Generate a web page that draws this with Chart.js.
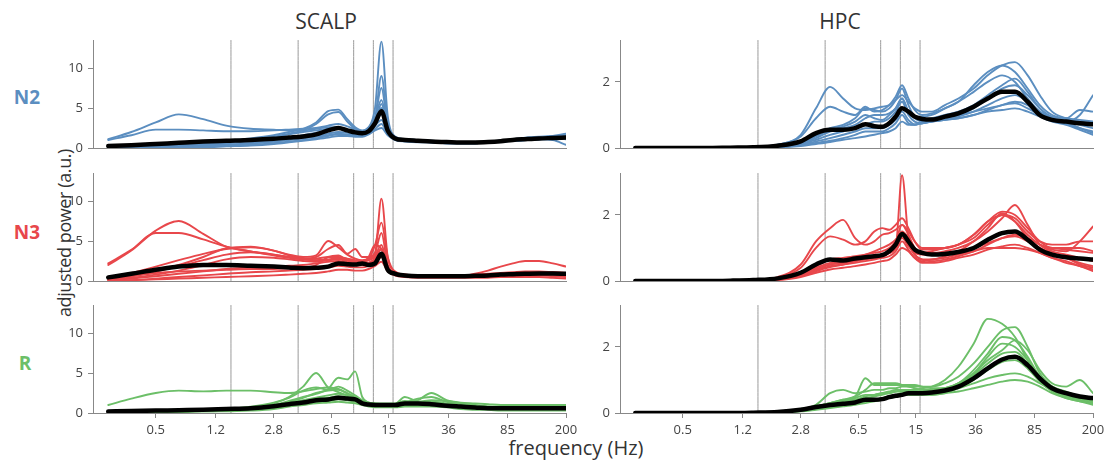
<!DOCTYPE html>
<html>
<head>
<meta charset="utf-8">
<script src="https://cdn.jsdelivr.net/npm/chart.js@4.4.1/dist/chart.umd.min.js"></script>
<style>
  body { margin: 0; background: #fff; }
  #wrap { position: relative; width: 1109px; height: 463px; overflow: hidden; font-family: 'Open Sans', sans-serif; }
  #wrap canvas { position: absolute; }
  .lbl { position: absolute; transform: translate(-50%, -50%); white-space: nowrap; color: #333; }
</style>
</head>
<body>
<div id="wrap">
  <div class="lbl" style="left:326px;top:21px;font-size:21px">SCALP</div>
  <div class="lbl" style="left:840px;top:21px;font-size:21px">HPC</div>
  <div class="lbl" style="left:27px;top:97px;font-size:19px;font-weight:bold;color:#5b8ec0">N2</div>
  <div class="lbl" style="left:27px;top:232px;font-size:19px;font-weight:bold;color:#e8474b">N3</div>
  <div class="lbl" style="left:25px;top:363px;font-size:19px;font-weight:bold;color:#6cbf68">R</div>
  <div class="lbl" style="left:64px;top:233px;font-size:18px;letter-spacing:-0.4px;transform:translate(-50%,-50%) rotate(-90deg)">adjusted power (a.u.)</div>
  <div class="lbl" style="left:576px;top:447px;font-size:20px">frequency (Hz)</div>
</div>
<script>
// frequency grid (Hz) shared by every spectrum
const freqs = [0.25, 0.35, 0.5, 0.7, 1.0, 1.4, 2.0, 2.8, 3.5, 4.3, 5.2, 6.2, 7.2, 8.2, 9.2, 10.2, 11.2, 12.3, 13.5, 14.8, 16.5, 19, 23, 28, 35, 43, 53, 64, 77, 92, 110, 135, 165, 200];
const xTicks = [0.5, 1.2, 2.8, 6.5, 15, 36, 85, 200];
const xTickLabels = ['0.5', '1.2', '2.8', '6.5', '15', '36', '85', '200'];
const bandEdges = [1.5, 4, 9, 12, 16];
const scalpYTicks = [0, 5, 10];
const hpcYTicks = [0, 2];

// SCALP N2
const scalpN2 = [
  [1.1,2.0,3.2,4.2,3.6, 2.8,2.4,2.3,2.2,2.2, 2.4,2.6,2.6,2.3,2.0, 1.9,2.2,2.8,3.5,2.0, 1.2,1.0,0.9,0.8,0.7, 0.7,0.7,0.8,0.9,1.0, 1.1,1.2,1.2,1.3],
  [1.0,1.6,2.3,2.3,2.2, 2.1,2.1,2.2,2.3,2.4, 2.5,2.8,3.0,2.7,2.3, 2.1,2.6,3.8,6.0,2.6, 1.3,1.1,1.0,0.9,0.8, 0.7,0.7,0.7,0.8,0.9, 1.1,1.3,1.4,1.5],
  [0.1,0.2,0.3,0.5,0.7, 0.9,1.2,1.6,2.0,2.4, 3.2,4.6,4.8,3.6,2.6, 2.2,2.5,3.5,5.0,2.4, 1.3,1.1,0.9,0.8,0.7, 0.7,0.7,0.8,0.9,1.0, 1.1,1.3,1.4,1.6],
  [0.1,0.2,0.3,0.4,0.6, 0.8,1.1,1.4,1.8,2.2, 3.0,4.2,4.5,3.3,2.4, 2.0,2.3,3.6,9.0,3.0, 1.4,1.1,0.9,0.8,0.7, 0.7,0.7,0.8,0.9,1.0, 1.1,1.3,1.5,1.8],
  [0.0,0.1,0.2,0.3,0.4, 0.6,0.8,1.0,1.3,1.6, 1.9,2.2,2.4,2.2,2.0, 1.9,2.5,5.0,13.3,4.0, 1.4,1.0,0.9,0.8,0.7, 0.6,0.6,0.7,0.8,0.9, 1.0,1.1,1.2,1.2],
  [0.0,0.1,0.2,0.3,0.5, 0.7,1.0,1.3,1.7,2.0, 2.2,2.4,2.5,2.3,2.1, 2.0,2.4,3.8,7.5,2.8, 1.3,1.0,0.9,0.8,0.7, 0.7,0.7,0.7,0.8,0.9, 1.0,1.1,1.2,1.3],
  [0.0,0.1,0.1,0.2,0.3, 0.4,0.6,0.8,1.1,1.3, 1.5,1.8,2.0,1.9,1.7, 1.6,1.9,2.8,4.2,2.2, 1.2,0.9,0.8,0.7,0.6, 0.6,0.6,0.7,0.8,0.9, 1.0,1.1,1.2,1.1],
  [0.0,0.0,0.1,0.1,0.2, 0.3,0.4,0.6,0.8,1.0, 1.2,1.5,1.7,1.6,1.5, 1.5,1.8,2.4,3.0,1.8, 1.1,0.9,0.8,0.7,0.6, 0.6,0.6,0.7,0.8,0.9, 1.0,1.2,1.3,1.4],
  [0.0,0.0,0.0,0.1,0.1, 0.2,0.3,0.5,0.7,0.9, 1.1,1.3,1.5,1.5,1.4, 1.4,1.7,2.2,2.5,1.6, 1.0,0.8,0.7,0.7,0.6, 0.6,0.6,0.7,0.8,0.9, 1.0,1.1,1.0,0.4],
  [0.0,0.1,0.1,0.2,0.3, 0.4,0.6,0.8,1.0,1.2, 1.4,1.6,1.8,1.7,1.6, 1.6,2.0,3.0,5.5,2.2, 1.2,1.0,0.9,0.8,0.7, 0.7,0.7,0.8,0.9,1.1, 1.3,1.4,1.5,1.6]
];
const scalpN2Mean = [0.25,0.35,0.5,0.65,0.8, 0.9,1.0,1.15,1.3,1.45, 1.7,2.2,2.5,2.2,1.95, 1.85,2.1,3.1,4.6,2.2, 1.2,1.0,0.9,0.8,0.75, 0.7,0.7,0.75,0.85,1.0, 1.1,1.2,1.25,1.3];

// SCALP N3
const scalpN3 = [
  [2.0,3.8,6.3,7.5,5.9, 4.3,3.7,3.3,3.0,2.8, 2.8,3.0,3.0,2.8,2.6, 2.5,2.7,3.2,4.5,1.8, 0.9,0.7,0.6,0.6,0.6, 0.6,0.7,0.8,0.9,1.0, 1.0,1.0,0.9,0.9],
  [2.2,3.9,6.0,6.0,5.2, 4.3,3.7,3.2,2.9,2.7, 2.6,2.7,2.8,2.7,2.5, 2.4,2.6,3.0,4.0,1.6, 0.9,0.7,0.6,0.6,0.6, 0.6,0.6,0.7,0.8,0.9, 1.0,1.1,1.1,1.0],
  [0.3,0.7,1.3,2.0,3.0, 4.1,4.3,3.8,3.3,3.0, 3.2,5.0,4.2,3.3,2.8, 2.6,2.8,3.5,6.0,2.0, 1.0,0.8,0.7,0.6,0.6, 0.6,0.7,0.7,0.8,0.9, 1.0,1.0,0.9,0.8],
  [0.5,1.0,1.8,2.6,3.4, 4.0,4.2,3.8,3.2,2.8, 3.0,4.0,4.5,3.4,4.0, 3.0,3.0,3.5,10.3,3.0, 1.2,0.8,0.7,0.6,0.6, 0.6,0.6,0.7,0.8,0.9, 1.0,1.0,1.0,0.9],
  [0.3,0.6,1.2,1.8,2.6, 3.3,3.6,3.3,3.0,2.7, 2.6,2.6,2.8,2.6,2.5, 2.4,2.7,4.5,7.3,3.0, 1.1,0.8,0.7,0.6,0.6, 0.6,0.6,0.7,0.8,0.9, 0.9,1.0,1.0,1.0],
  [0.2,0.4,0.8,1.3,2.0, 2.7,3.0,2.9,2.7,2.5, 2.4,2.6,2.7,2.5,2.4, 2.3,3.0,4.5,4.0,1.8, 0.9,0.7,0.6,0.5,0.5, 0.5,0.5,0.6,0.7,0.8, 0.8,0.8,0.8,0.7],
  [0.1,0.3,0.6,0.9,1.2, 1.5,1.7,1.8,1.9,2.0, 2.2,2.4,2.5,2.3,2.2, 2.1,2.3,2.8,4.0,1.6, 0.8,0.6,0.5,0.5,0.5, 0.5,0.5,0.5,0.6,0.6, 0.7,0.7,0.6,0.5],
  [0.0,0.1,0.3,0.5,0.7, 0.9,1.1,1.2,1.3,1.4, 1.5,1.7,1.9,1.8,1.7, 1.7,1.9,2.3,3.0,1.4, 0.7,0.5,0.4,0.4,0.4, 0.4,0.4,0.4,0.5,0.5, 0.5,0.5,0.4,0.3],
  [0.0,0.1,0.2,0.3,0.4, 0.5,0.6,0.7,0.8,0.9, 1.0,1.2,1.4,1.4,1.3, 1.3,1.5,1.9,2.4,1.2, 0.7,0.6,0.6,0.6,0.6, 0.6,0.9,1.3,1.8,2.2, 2.5,2.5,2.2,1.8],
  [0.3,0.6,1.0,1.2,1.3, 1.4,1.5,1.5,1.6,1.7, 2.0,3.0,3.2,2.5,2.2, 2.0,2.2,2.6,3.5,1.5, 0.8,0.6,0.6,0.6,0.6, 0.7,0.8,0.9,1.0,1.1, 1.2,1.2,1.1,1.0]
];
const scalpN3Mean = [0.45,0.9,1.4,1.8,2.0, 2.0,1.9,1.8,1.7,1.6, 1.65,1.8,2.2,2.1,2.05, 2.2,2.0,2.2,3.4,1.4, 0.9,0.7,0.6,0.6,0.6, 0.6,0.65,0.7,0.8,0.85, 0.9,0.95,0.95,0.9];

// SCALP REM
const scalpR = [
  [1.0,1.8,2.5,2.8,2.7, 2.8,2.8,2.6,2.5,2.7, 3.0,3.2,3.0,2.4,1.9, 1.5,1.3,1.2,1.2,1.2, 1.2,1.5,1.4,1.6,1.5, 1.3,1.2,1.1,1.0,1.0, 1.0,1.0,1.0,1.0],
  [0.2,0.3,0.3,0.4,0.4, 0.5,0.7,1.2,2.0,3.3, 5.0,3.2,2.6,2.2,1.8, 1.4,1.2,1.1,1.0,1.0, 1.1,2.0,1.4,1.3,1.0, 0.8,0.7,0.6,0.6,0.6, 0.6,0.6,0.6,0.6],
  [0.1,0.2,0.2,0.3,0.3, 0.4,0.6,1.0,1.5,2.0, 2.4,3.0,4.4,4.2,5.2, 2.0,1.3,1.1,1.0,1.0, 1.0,1.2,1.6,2.5,1.6, 1.2,1.0,0.8,0.7,0.7, 0.7,0.6,0.6,0.6],
  [0.2,0.2,0.3,0.3,0.4, 0.5,0.8,1.3,1.9,2.8, 3.2,2.9,3.3,2.8,2.2, 1.6,1.3,1.2,1.1,1.1, 1.1,1.3,1.8,2.0,1.4, 1.1,0.9,0.8,0.8,0.8, 0.8,0.9,0.9,0.9],
  [0.1,0.1,0.2,0.2,0.3, 0.4,0.6,1.0,1.4,1.9, 2.5,2.8,2.9,2.5,2.0, 1.4,1.1,1.0,0.9,0.9, 0.9,1.0,1.1,1.2,1.0, 0.8,0.7,0.6,0.6,0.6, 0.6,0.7,0.7,0.7],
  [0.1,0.1,0.2,0.2,0.3, 0.3,0.5,0.8,1.1,1.4, 1.7,1.9,2.1,2.0,1.6, 1.2,1.0,0.9,0.9,0.9, 0.9,1.0,1.0,1.1,0.9, 0.7,0.6,0.5,0.5,0.5, 0.5,0.5,0.5,0.5],
  [0.1,0.1,0.1,0.2,0.2, 0.3,0.4,0.7,1.0,1.2, 1.4,1.5,1.7,1.6,1.4, 1.1,0.9,0.8,0.8,0.8, 0.8,0.9,0.9,0.9,0.8, 0.6,0.5,0.5,0.4,0.4, 0.4,0.4,0.4,0.4],
  [0.1,0.1,0.1,0.1,0.2, 0.2,0.3,0.5,0.8,1.0, 1.2,1.3,1.4,1.3,1.2, 1.0,0.8,0.7,0.7,0.7, 0.7,0.8,0.8,0.8,0.7, 0.5,0.4,0.4,0.3,0.3, 0.3,0.3,0.3,0.3],
  [0.1,0.1,0.2,0.2,0.3, 0.4,0.6,0.9,1.3,1.6, 1.9,2.2,2.4,2.2,1.8, 1.3,1.1,1.0,1.0,1.0, 1.0,1.2,1.3,1.4,1.2, 1.0,0.9,0.8,0.7,0.7, 0.8,0.8,0.8,0.8]
];
const scalpRMean = [0.2,0.25,0.3,0.35,0.4, 0.5,0.6,0.85,1.1,1.3, 1.6,1.7,1.9,1.8,1.7, 1.2,1.05,1.0,1.0,1.0, 1.0,1.2,1.2,1.1,0.9, 0.8,0.7,0.6,0.6,0.6, 0.6,0.6,0.6,0.6];

// HPC N2
const hpcN2 = [
  [0,0,0,0,0.01, 0.03,0.1,0.4,1.2,1.85, 1.5,1.2,1.15,1.2,1.25, 1.3,1.45,1.6,1.4,1.2, 1.1,1.1,1.3,1.5,1.8, 2.2,2.5,2.6,2.2,1.6, 1.1,0.9,0.8,0.7],
  [0,0,0,0,0.01, 0.03,0.1,0.35,0.9,1.25, 1.1,1.0,1.25,1.1,1.15, 1.3,1.55,1.9,1.5,1.15, 1.0,1.05,1.2,1.4,1.9, 2.3,2.5,2.3,1.8,1.3, 1.0,0.9,0.85,0.8],
  [0,0,0,0,0, 0.02,0.06,0.2,0.4,0.6, 0.7,0.9,1.2,1.15,1.1, 1.2,1.45,1.8,1.3,0.95, 0.85,0.9,1.0,1.1,1.3, 1.6,1.9,2.1,1.7,1.2, 0.9,0.8,1.0,1.6],
  [0,0,0,0,0, 0.02,0.05,0.15,0.3,0.5, 0.6,0.7,0.9,1.0,1.0, 1.05,1.2,1.5,1.1,0.9, 0.8,0.85,0.9,1.0,1.2, 1.5,1.8,1.9,1.6,1.2, 0.95,0.9,1.15,1.1],
  [0,0,0,0,0, 0.01,0.04,0.12,0.25,0.4, 0.5,0.6,0.7,0.8,0.8, 0.9,1.1,1.4,1.0,0.8, 0.75,0.8,0.85,0.95,1.1, 1.3,1.5,1.6,1.4,1.1, 0.9,0.8,0.7,0.6],
  [0,0,0,0,0, 0.01,0.03,0.1,0.2,0.3, 0.4,0.5,0.6,0.6,0.6, 0.7,0.85,1.1,0.85,0.72, 0.75,0.8,0.85,0.9,1.0, 1.15,1.3,1.35,1.2,1.0, 0.85,0.75,0.6,0.5],
  [0,0,0,0,0, 0.01,0.03,0.08,0.15,0.22, 0.3,0.4,0.5,0.5,0.5, 0.6,0.75,1.0,0.75,0.7, 0.75,0.8,0.85,0.9,1.0, 1.1,1.15,1.2,1.1,0.95, 0.8,0.7,0.55,0.4],
  [0,0,0,0,0, 0.01,0.02,0.06,0.12,0.18, 0.25,0.3,0.35,0.4,0.45, 0.5,0.6,0.8,0.7,0.7, 0.8,0.85,0.9,1.0,1.1, 1.2,1.3,1.4,1.3,1.0, 0.85,0.75,0.6,0.45],
  [0,0,0,0,0, 0.01,0.04,0.15,0.35,0.55, 0.65,0.8,1.0,0.9,0.85, 1.0,1.2,1.5,1.1,0.95, 0.95,1.0,1.2,1.4,1.7, 2.0,2.2,2.0,1.5,1.1, 0.9,0.85,0.8,0.75]
];
const hpcN2Mean = [0,0,0,0,0.01, 0.02,0.07,0.2,0.45,0.55, 0.55,0.6,0.72,0.66,0.64, 0.75,0.95,1.2,1.1,0.95, 0.88,0.86,0.95,1.05,1.25, 1.5,1.7,1.7,1.4,1.0, 0.85,0.8,0.75,0.72];

// HPC N3
const hpcN3 = [
  [0,0,0,0,0.01, 0.03,0.12,0.5,1.2,1.6, 1.85,1.3,1.1,1.2,1.4, 1.45,1.55,1.7,1.5,1.2, 1.0,1.0,1.0,1.1,1.4, 1.8,2.1,2.0,1.6,1.2, 1.0,1.0,1.0,0.9],
  [0,0,0,0,0.01, 0.03,0.1,0.4,1.0,1.35, 1.25,1.1,1.2,1.5,1.6, 1.55,1.7,1.9,1.6,1.2, 0.95,0.95,1.0,1.1,1.3, 1.7,2.0,1.9,1.5,1.2, 1.1,1.1,1.2,1.2],
  [0,0,0,0,0, 0.02,0.06,0.2,0.35,0.5, 0.55,0.6,0.7,0.75,0.8, 0.85,1.0,3.2,1.3,0.8, 0.65,0.6,0.65,0.75,0.9, 1.1,1.3,1.4,1.3,1.1, 0.95,0.9,1.2,1.65],
  [0,0,0,0,0, 0.02,0.07,0.25,0.45,0.65, 0.7,0.75,0.8,0.85,0.9, 1.0,1.2,1.7,1.4,1.0, 0.85,0.85,0.9,1.0,1.2, 1.5,1.9,2.3,1.7,1.1, 0.9,0.8,0.7,0.6],
  [0,0,0,0,0, 0.02,0.05,0.2,0.35,0.5, 0.55,0.6,0.65,0.7,0.75, 0.85,1.0,1.4,1.1,0.8, 0.65,0.65,0.75,0.9,1.2, 1.6,2.05,1.8,1.3,1.0, 0.8,0.7,0.5,0.4],
  [0,0,0,0,0, 0.01,0.04,0.15,0.3,0.42, 0.5,0.55,0.6,0.65,0.7, 0.75,0.9,1.2,0.95,0.7, 0.55,0.55,0.6,0.7,0.8, 0.95,1.05,1.1,1.0,0.85, 0.7,0.6,0.45,0.35],
  [0,0,0,0,0, 0.01,0.03,0.12,0.25,0.35, 0.4,0.45,0.5,0.55,0.6, 0.65,0.8,1.0,0.9,0.7, 0.6,0.65,0.7,0.8,0.9, 1.0,1.0,1.0,0.95,0.85, 0.7,0.55,0.45,0.3],
  [0,0,0,0,0, 0.01,0.05,0.2,0.4,0.55, 0.6,0.7,0.8,0.9,1.0, 1.1,1.25,1.5,1.3,1.0, 0.85,0.9,1.0,1.1,1.4, 1.8,2.0,1.8,1.4,1.1, 1.0,0.95,0.9,0.85],
  [0,0,0,0,0, 0.01,0.04,0.15,0.3,0.45, 0.5,0.6,0.7,0.7,0.75, 0.85,1.0,1.3,1.05,0.85, 0.8,0.8,0.85,0.9,1.0, 1.15,1.3,1.35,1.2,1.0, 0.85,0.7,0.55,0.45]
];
const hpcN3Mean = [0,0,0,0,0.01, 0.03,0.08,0.25,0.5,0.65, 0.62,0.68,0.72,0.75,0.78, 0.9,1.1,1.42,1.2,0.95, 0.85,0.8,0.82,0.88,1.0, 1.25,1.45,1.5,1.25,0.95, 0.8,0.72,0.68,0.65];

// HPC REM
const hpcR = [
  [0,0,0,0,0, 0.01,0.03,0.1,0.2,0.3, 0.35,0.45,0.55,0.55,0.6, 0.6,0.65,0.7,0.7,0.7, 0.75,0.8,1.0,1.4,2.1, 2.85,2.7,2.3,1.6,1.0, 0.7,0.55,0.45,0.35],
  [0,0,0,0,0, 0.01,0.04,0.12,0.25,0.6, 0.7,0.6,0.65,0.7,0.7, 0.75,0.75,0.8,0.8,0.8, 0.8,0.8,0.9,1.1,1.5, 2.0,2.5,2.6,2.0,1.2, 0.8,0.6,0.5,0.4],
  [0,0,0,0,0, 0.01,0.03,0.1,0.2,0.3, 0.4,0.5,1.05,0.85,0.85, 0.85,0.85,0.85,0.85,0.85, 0.8,0.75,0.75,0.9,1.3, 1.8,2.3,2.2,1.7,1.1, 0.8,0.65,0.5,0.4],
  [0,0,0,0,0, 0.01,0.03,0.1,0.2,0.3, 0.4,0.5,0.7,0.9,0.9, 0.9,0.9,0.85,0.8,0.75, 0.7,0.7,0.75,0.9,1.2, 1.6,1.9,2.2,1.9,1.3, 0.9,0.8,1.0,0.6],
  [0,0,0,0,0, 0.01,0.02,0.08,0.15,0.22, 0.28,0.35,0.45,0.5,0.55, 0.6,0.65,0.65,0.65,0.65, 0.65,0.65,0.7,0.85,1.15, 1.5,1.8,1.85,1.5,1.0, 0.7,0.5,0.4,0.3],
  [0,0,0,0,0, 0.01,0.02,0.06,0.12,0.18, 0.22,0.28,0.35,0.4,0.45, 0.5,0.55,0.55,0.55,0.55, 0.55,0.55,0.6,0.75,1.0, 1.3,1.55,1.6,1.35,0.95, 0.65,0.45,0.35,0.25],
  [0,0,0,0,0, 0.01,0.02,0.06,0.12,0.18, 0.22,0.28,0.35,0.4,0.45, 0.5,0.55,0.6,0.6,0.6, 0.6,0.6,0.65,0.75,0.9, 1.05,1.15,1.2,1.1,0.9, 0.7,0.55,0.45,0.35],
  [0,0,0,0,0, 0.01,0.02,0.05,0.1,0.15, 0.2,0.25,0.3,0.35,0.4, 0.45,0.5,0.55,0.55,0.55, 0.55,0.55,0.6,0.65,0.75, 0.85,0.95,1.0,0.95,0.8, 0.6,0.45,0.35,0.3],
  [0,0,0,0,0, 0.01,0.03,0.1,0.2,0.3, 0.35,0.4,0.5,0.55,0.6, 0.65,0.7,0.7,0.7,0.7, 0.7,0.7,0.75,0.9,1.2, 1.7,2.1,2.0,1.6,1.1, 0.8,0.6,0.5,0.45]
];
const hpcRMean = [0,0,0,0,0, 0.01,0.03,0.1,0.18,0.24, 0.28,0.32,0.4,0.4,0.42, 0.48,0.52,0.55,0.6,0.6, 0.6,0.62,0.68,0.8,1.05, 1.35,1.62,1.7,1.45,1.05, 0.75,0.6,0.5,0.45];

const blue = '#5b8ec0', red = '#e8474b', green = '#6cbf68';
const axisColor = '#888', tickColor = '#444';

const panels = [
  { col: 0, row: 0, subjects: scalpN2, mean: scalpN2Mean, color: blue, yMax: 13.5, yTicks: scalpYTicks },
  { col: 1, row: 0, subjects: hpcN2, mean: hpcN2Mean, color: blue, yMax: 3.27, yTicks: hpcYTicks },
  { col: 0, row: 1, subjects: scalpN3, mean: scalpN3Mean, color: red, yMax: 13.5, yTicks: scalpYTicks },
  { col: 1, row: 1, subjects: hpcN3, mean: hpcN3Mean, color: red, yMax: 3.27, yTicks: hpcYTicks },
  { col: 0, row: 2, subjects: scalpR, mean: scalpRMean, color: green, yMax: 13.5, yTicks: scalpYTicks },
  { col: 1, row: 2, subjects: hpcR, mean: hpcRMean, color: green, yMax: 3.27, yTicks: hpcYTicks }
];

const colLeft = [93, 620];
const rowTop = [40, 173, 305];
const areaW = 473, areaH = 108;
const yAxisW = 45, padR = 16, padT = 16, xAxisH = 28;

Chart.defaults.font.family = "'Open Sans', sans-serif";
const wrap = document.getElementById('wrap');

panels.forEach(p => {
  const last = p.row === 2;
  const padB = last ? 4 : 16;
  const cv = document.createElement('canvas');
  cv.width = yAxisW + areaW + padR;
  cv.height = padT + areaH + (last ? xAxisH : 0) + padB;
  cv.style.left = (colLeft[p.col] - yAxisW) + 'px';
  cv.style.top = (rowTop[p.row] - padT) + 'px';
  wrap.appendChild(cv);

  const datasets = [];
  bandEdges.forEach(f => {
    datasets.push({ data: [{ x: f, y: 0 }, { x: f, y: p.yMax }], borderColor: '#9a9a9a', borderWidth: 1, order: 3 });
  });
  p.subjects.forEach(s => {
    datasets.push({ data: freqs.map((f, i) => ({ x: f, y: s[i] })), borderColor: p.color, borderWidth: 1.9, order: 2 });
  });
  datasets.push({ data: freqs.map((f, i) => ({ x: f, y: p.mean[i] })), borderColor: '#000', borderWidth: 4.5, order: 1 });

  new Chart(cv, {
    type: 'line',
    data: { datasets },
    options: {
      responsive: false,
      animation: false,
      devicePixelRatio: 1,
      layout: { padding: { left: 0, right: padR, top: padT, bottom: padB } },
      plugins: { legend: { display: false }, tooltip: { enabled: false } },
      elements: {
        point: { radius: 0 },
        line: { cubicInterpolationMode: 'monotone', borderCapStyle: 'round', borderJoinStyle: 'round' }
      },
      scales: {
        x: {
          type: 'logarithmic', min: 0.2, max: 200,
          afterBuildTicks: s => { s.ticks = xTicks.map(v => ({ value: v })); },
          afterFit: s => { s.height = last ? xAxisH : 0; },
          border: { display: true, color: axisColor, width: 1 },
          grid: { display: last, drawOnChartArea: false, drawTicks: true, tickLength: 5, color: axisColor },
          ticks: { display: last, autoSkip: false, maxRotation: 0, padding: 4, color: tickColor, font: { size: 13 },
                   callback: (v, i) => xTickLabels[i] }
        },
        y: {
          min: 0, max: p.yMax,
          afterBuildTicks: s => { s.ticks = p.yTicks.map(v => ({ value: v })); },
          afterFit: s => { s.width = yAxisW; },
          border: { display: true, color: axisColor, width: 1 },
          grid: { drawOnChartArea: false, drawTicks: true, tickLength: 5, color: axisColor },
          ticks: { padding: 5, color: tickColor, font: { size: 13 }, callback: v => String(v) }
        }
      }
    }
  });
});
</script>
</body>
</html>
